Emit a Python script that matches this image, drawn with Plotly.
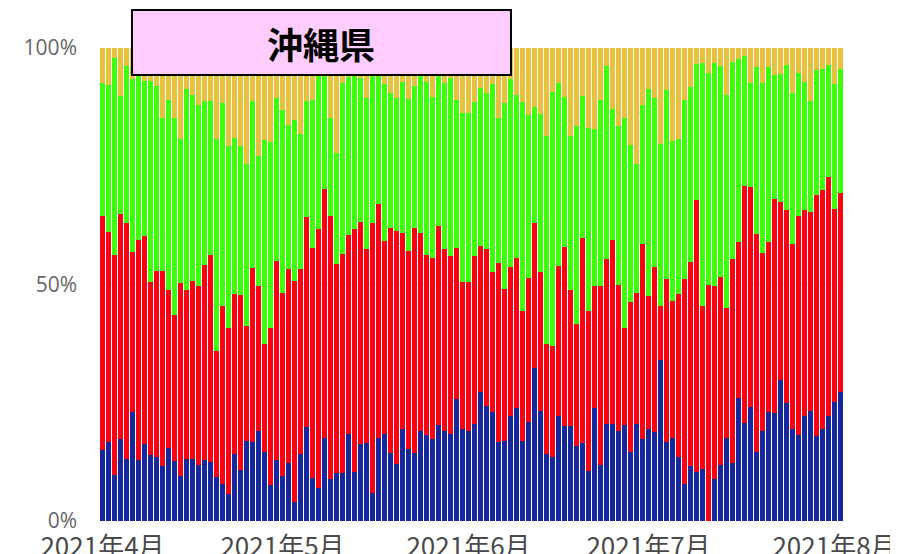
import pandas as pd
import plotly.graph_objects as go

dates = pd.date_range("2021-04-01", periods=124, freq="D")

blue = [15.0,16.6,9.7,17.3,13.2,23.1,13.0,16.3,14.0,13.5,
        11.6,15.4,12.6,9.5,13.2,13.1,11.8,12.9,12.5,9.4,
        7.8,5.8,14.1,10.8,17.0,16.8,19.1,14.5,7.6,12.8,
        9.5,12.2,4.1,14.1,19.8,9.0,6.9,17.5,8.8,10.1,
        10.1,18.3,10.4,16.2,16.4,6.0,17.6,18.5,14.3,12.1,
        19.4,15.2,14.3,19.0,18.2,17.3,20.3,19.0,18.4,25.8,
        19.4,19.1,20.5,27.3,24.4,23.1,16.8,16.9,22.1,23.8,
        17.0,21.0,32.3,23.3,14.2,13.6,22.2,20.1,20.1,15.9,
        16.4,10.6,23.8,11.8,20.6,20.5,19.1,20.3,14.5,20.6,
        17.4,19.4,18.9,34.0,16.8,17.5,13.5,7.9,11.7,10.4,
        11.1,0.0,8.8,11.8,17.6,12.3,25.9,20.8,24.2,14.5,
        19.1,23.0,22.9,29.9,25.0,19.4,18.1,22.2,23.3,18.0,
        19.4,22.3,25.2,27.3]

red = [49.5,44.4,46.5,47.6,49.7,33.8,46.4,44.0,36.6,39.4,
       41.2,33.5,30.9,40.7,35.6,37.6,38.0,41.2,43.7,26.6,
       37.7,34.9,33.9,36.9,24.2,36.8,30.6,22.8,33.3,42.1,
       38.6,41.1,46.7,39.2,44.4,48.8,54.8,52.7,55.7,44.3,
       46.4,42.1,51.2,47.0,41.1,56.9,49.5,40.7,47.6,49.3,
       41.4,42.0,47.6,41.8,38.1,38.3,42.1,38.5,37.6,32.0,
       31.2,31.4,35.5,30.8,33.1,29.6,37.8,32.1,31.5,31.9,
       27.3,30.4,30.7,29.4,23.2,23.3,31.7,37.9,28.8,25.8,
       43.4,33.8,25.9,37.9,34.7,39.0,30.7,20.6,31.9,27.5,
       41.2,28.1,34.7,11.4,34.5,29.0,34.5,43.3,43.1,57.6,
       34.4,49.8,40.9,39.7,27.3,43.0,33.0,50.0,46.4,46.2,
       37.6,36.1,45.1,37.6,40.7,39.1,46.4,43.6,42.0,51.0,
       50.6,50.5,40.7,41.9]

green = [28.1,31.2,41.6,25.0,33.3,36.6,35.9,32.8,42.6,39.1,
         32.3,40.3,41.8,30.4,42.4,39.3,38.3,34.8,32.6,44.8,
         43.0,38.5,33.1,31.6,34.2,35.2,27.5,43.2,39.2,34.5,
         38.8,30.4,34.0,28.5,24.5,31.4,34.4,26.6,20.6,23.3,
         36.1,33.5,32.4,30.5,32.0,33.5,28.6,33.2,28.6,28.2,
         32.0,32.1,30.1,33.3,36.6,34.2,32.2,35.0,37.6,31.2,
         35.7,35.9,32.6,33.5,32.9,39.6,30.7,39.5,39.8,34.4,
         44.3,34.4,24.6,33.4,44.0,53.7,38.8,31.6,32.5,41.9,
         30.1,38.6,33.1,39.4,40.9,27.7,33.8,44.2,33.0,27.4,
         29.3,43.7,35.9,34.2,39.9,33.9,32.7,37.8,37.0,28.8,
         51.3,45.0,47.0,44.6,45.1,41.8,38.7,27.5,22.0,35.2,
         35.8,36.9,26.3,26.9,30.7,31.9,30.2,27.1,23.6,26.4,
         25.5,23.6,26.5,26.2]

yellow = [7.3,7.8,2.2,10.1,3.8,6.6,4.7,6.9,6.9,8.0,
          14.9,10.9,14.7,19.3,8.7,9.9,12.0,11.1,11.1,19.2,
          11.6,20.7,19.0,20.7,24.5,11.3,22.8,19.4,19.9,10.6,
          13.1,16.3,15.2,18.2,11.3,10.9,3.9,3.2,14.9,22.3,
          7.5,6.1,5.9,6.3,10.5,3.6,4.3,7.6,9.4,10.5,
          7.2,10.8,8.0,5.9,7.2,10.3,5.4,7.5,6.4,11.0,
          13.7,13.7,11.3,8.4,9.6,7.7,14.7,11.6,6.6,9.9,
          11.4,14.2,12.5,13.9,18.6,9.4,7.3,10.4,18.7,16.4,
          10.1,17.0,17.2,10.9,3.8,12.8,16.4,14.9,20.6,24.5,
          12.1,8.7,10.5,20.3,8.9,19.6,19.2,11.1,8.2,3.3,
          3.2,5.2,3.2,3.8,9.9,2.9,2.4,1.7,7.5,4.1,
          7.5,4.1,5.7,5.6,3.6,9.6,5.2,7.1,11.1,4.7,
          4.5,3.6,7.6,4.5]

tick_dates = ["2021-04-01", "2021-05-01", "2021-06-01", "2021-07-01", "2021-08-01"]
tick_text = ["2021年4月", "2021年5月", "2021年6月", "2021年7月", "2021年8月"]
title_text = "沖縄県"

series = [(blue, "#14279c"), (red, "#ff0012"), (green, "#3dff0c"), (yellow, "#e6c23e")]

fig = go.Figure()
for vals, col in series:
    fig.add_trace(go.Bar(x=dates, y=vals, marker=dict(color=col, line=dict(width=0)),
                         showlegend=False))

fig.update_layout(
    width=898, height=554,
    margin=dict(l=92, r=62, t=40, b=41),
    barmode="stack", barnorm="percent", bargap=1/6,
    plot_bgcolor="white", paper_bgcolor="white",
    font=dict(family="Open Sans, Noto Sans CJK JP, sans-serif"),
    xaxis=dict(type="date", range=["2021-03-31 14:00", "2021-08-02 14:00"],
               tickvals=tick_dates, ticktext=tick_text, showgrid=False,
               zeroline=False, ticks="", ticklabelstandoff=8, automargin=False,
               tickfont=dict(size=26, color="#4a4a4a",
                             family="Noto Sans CJK JP, sans-serif")),
    yaxis=dict(range=[0, 100], tickvals=[0, 50, 100], ticktext=["0%", "50%", "100%"],
               showgrid=True, gridcolor="#e6e6e6", zeroline=False, ticks="",
               ticklabelstandoff=22, automargin=False,
               tickfont=dict(size=21, color="#666666",
                             family="Open Sans, sans-serif")),
)

# title box, positioned in paper fractions of the 744 x 473 plot area
fig.add_shape(type="rect", xref="paper", yref="paper",
              x0=0.043, x1=0.5524, y0=0.9429, y1=1.0803,
              fillcolor="#ffccff", line=dict(color="black", width=2), layer="above")
fig.add_annotation(xref="paper", yref="paper", x=0.2977, y=1.0116,
                   text="<b>" + title_text + "</b>", showarrow=False,
                   font=dict(size=36, color="black", family="Noto Sans CJK JP"),
                   xanchor="center", yanchor="middle")

fig.write_html("out.html")
